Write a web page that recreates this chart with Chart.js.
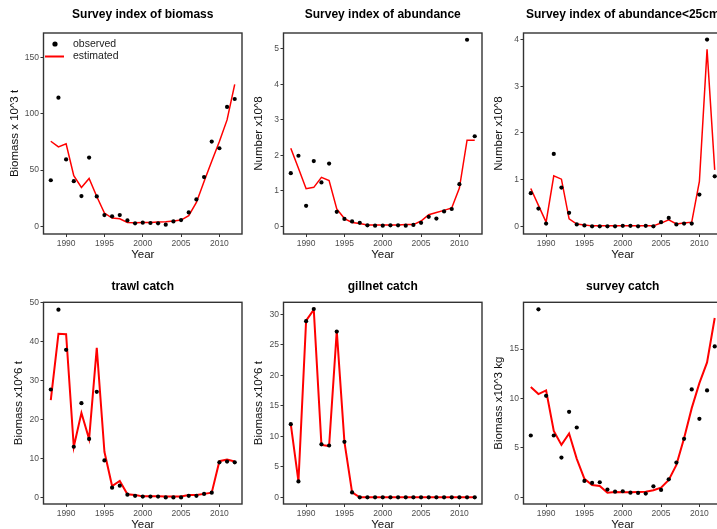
<!DOCTYPE html>
<html>
<head>
<meta charset="utf-8">
<script src="https://cdn.jsdelivr.net/npm/chart.js@4.4.1/dist/chart.umd.min.js"></script>
<style>
  html, body { margin:0; padding:0; background:#fff; }
  body { width:717px; height:529px; overflow:hidden; position:relative; }
  canvas { position:absolute; }
</style>
</head>
<body>
<canvas id="p0"></canvas>
<canvas id="p1"></canvas>
<canvas id="p2"></canvas>
<canvas id="p3"></canvas>
<canvas id="p4"></canvas>
<canvas id="p5"></canvas>
<script>
// ---------------- DATA ----------------
const years = [1988,1989,1990,1991,1992,1993,1994,1995,1996,1997,1998,1999,2000,
               2001,2002,2003,2004,2005,2006,2007,2008,2009,2010,2011,2012];
const xTickValues = [1990,1995,2000,2005,2010];

const biomassObs = [41,114.5,59.5,40.2,26.9,61.2,26.6,10,8.9,10,5.3,2.7,3.3,3,2.7,1.5,4.4,5.6,12.4,24,43.8,75.4,69.5,106.2,113.3];
const biomassEst = [75.7,70.7,73.4,45,34.6,42.6,26.6,11.8,7.4,6.8,3.5,3.3,3.5,3.5,3.8,4.1,4.7,5.6,9.5,21.3,40,58,75.4,94.7,126.3];

const abundObs = [1.50,1.99,0.58,1.84,1.24,1.77,0.41,0.21,0.14,0.10,0.03,0.02,0.02,0.03,0.03,0.02,0.04,0.10,0.27,0.22,0.42,0.49,1.19,5.26,2.54];
const abundEst = [2.20,1.64,1.06,1.10,1.38,1.29,0.49,0.22,0.11,0.08,0.04,0.04,0.04,0.04,0.04,0.05,0.05,0.15,0.33,0.39,0.45,0.52,1.08,2.43,2.43];

const abund25Obs = [0.71,0.38,0.06,1.55,0.83,0.29,0.04,0.02,0.0,0.0,0.0,0.0,0.01,0.01,0.0,0.01,0.0,0.09,0.18,0.04,0.06,0.06,0.68,4.0,1.07];
const abund25Est = [0.81,0.45,0.09,1.08,1.01,0.16,0.05,0.03,0.01,0.01,0.01,0.01,0.01,0.01,0.01,0.01,0.01,0.07,0.14,0.05,0.07,0.09,0.96,3.79,1.21];

const trawlObs = [27.7,48.2,37.9,13.0,24.2,15.0,27.1,9.5,2.5,3.0,0.7,0.4,0.2,0.2,0.2,0.0,0.0,0.0,0.4,0.4,0.9,1.2,9.0,9.2,9.0];
const trawlEst = [25.0,42.0,41.9,13.0,21.7,15.0,38.4,11.7,2.9,4.2,0.8,0.6,0.26,0.26,0.26,0.2,0.2,0.2,0.6,0.6,0.9,1.2,9.3,9.7,9.2];

const gillnetObs = [12.0,2.6,28.9,30.9,8.7,8.5,27.2,9.1,0.8,0,0,0,0,0,0,0,0,0,0,0,0,0,0,0,0];
const gillnetEst = [12.0,2.6,29.0,30.8,8.6,8.4,27.3,9.1,0.8,0,0,0,0,0,0,0,0,0,0,0,0,0,0,0,0];

const surveyObs = [6.25,19.02,10.27,6.25,4.02,8.65,7.06,1.66,1.45,1.52,0.78,0.57,0.61,0.47,0.44,0.37,1.11,0.74,1.82,3.51,5.91,10.91,7.94,10.81,15.27];
const surveyEst = [11.15,10.44,10.81,6.72,5.30,6.45,3.89,1.86,1.25,1.15,0.47,0.54,0.5,0.5,0.54,0.57,0.71,0.98,1.76,3.28,5.98,9.02,11.55,13.65,18.14];

const titles = ["Survey index of biomass","Survey index of abundance","Survey index of abundance<25cm",
                "trawl catch","gillnet catch","survey catch"];
const yLabels = ["Biomass x 10^3 t","Number x10^8","Number x10^8",
                 "Biomass x10^6 t","Biomass x10^6 t","Biomass x10^3 kg"];
const biomassTicks = [0,50,100,150];
const abundTicks = [0,1,2,3,4,5];
const abund25Ticks = [0,1,2,3,4];
const trawlTicks = [0,10,20,30,40,50];
const gillnetTicks = [0,5,10,15,20,25,30];
const surveyTicks = [0,5,10,15];
const legendLabels = ["observed","estimated"];

// ---------------- LAYOUT / STYLE ----------------
const FONT = "'Liberation Sans', Arial, sans-serif";
const panels = [
  {obs:biomassObs, est:biomassEst, ticks:biomassTicks, ymin:-6.8, ymax:172, row:0, col:0, ytp:8, legend:true},
  {obs:abundObs, est:abundEst, ticks:abundTicks, ymin:-0.215, ymax:5.45, row:0, col:1, ytp:11.5},
  {obs:abund25Obs, est:abund25Est, ticks:abund25Ticks, ymin:-0.164, ymax:4.14, row:0, col:2, ytp:11.5},
  {obs:trawlObs, est:trawlEst, ticks:trawlTicks, ymin:-1.7, ymax:50.1, row:1, col:0, ytp:11.5},
  {obs:gillnetObs, est:gillnetEst, ticks:gillnetTicks, ymin:-1.1, ymax:32.0, row:1, col:1, ytp:11.5},
  {obs:surveyObs, est:surveyEst, ticks:surveyTicks, ymin:-0.68, ymax:19.73, row:1, col:2, ytp:11.5},
];
const rows = [
  {top:0,   h:265, chartTop:33,   chartBottom:234, titleY:15,   yearPad:3,  lw:1.5},
  {top:265, h:270, chartTop:37.3, chartBottom:239, titleY:21.7, yearPad:3,  lw:2}
];
const CW = 245, PLOT_LEFT = 43.5, PLOT_RIGHT = 242;

const panelDeco = {
  id:'panelDeco',
  afterDraw(chart, args, opts) {
    const {ctx, chartArea:a} = chart;
    ctx.save();
    // box
    ctx.strokeStyle = '#333';
    ctx.lineWidth = 1.4;
    ctx.strokeRect(a.left, a.top, a.right - a.left, a.bottom - a.top);
    // title
    ctx.fillStyle = '#000';
    ctx.font = 'bold 12px ' + FONT;
    ctx.textAlign = 'center';
    ctx.textBaseline = 'middle';
    ctx.fillText(opts.title, (a.left + a.right) / 2, opts.titleY);
    // legend
    if (opts.legend) {
      ctx.fillStyle = '#000';
      ctx.beginPath();
      ctx.arc(55, 44, 2.6, 0, Math.PI * 2);
      ctx.fill();
      ctx.strokeStyle = '#ff0000';
      ctx.lineWidth = 2;
      ctx.beginPath();
      ctx.moveTo(45, 56.5); ctx.lineTo(64, 56.5);
      ctx.stroke();
      ctx.fillStyle = '#222';
      ctx.font = '10.5px ' + FONT;
      ctx.textAlign = 'left';
      ctx.fillText(opts.legendLabels[0], 73, 44.5);
      ctx.fillText(opts.legendLabels[1], 73, 56.5);
    }
    ctx.restore();
  }
};

panels.forEach((p, i) => {
  const r = rows[p.row];
  const cv = document.getElementById('p' + i);
  cv.width = CW; cv.height = r.h;
  cv.style.left = (p.col * 240) + 'px';
  cv.style.top = r.top + 'px';
  cv.style.width = CW + 'px'; cv.style.height = r.h + 'px';
  const xH = r.h - r.chartBottom;
  new Chart(cv, {
    type: 'scatter',
    data: {
      datasets: [
        {label: legendLabels[0], data: years.map((y, k) => ({x:y, y:p.obs[k]})),
         showLine:false, pointRadius:2.1, pointHoverRadius:2.1, pointBackgroundColor:'#000',
         pointBorderWidth:0, borderColor:'#000', order:0},
        {label: legendLabels[1], data: years.map((y, k) => ({x:y, y:p.est[k]})),
         showLine:true, pointRadius:0, borderColor:'#ff0000', borderWidth:r.lw,
         tension:0, order:1}
      ]
    },
    options: {
      responsive:false, animation:false, devicePixelRatio:1,
      layout:{padding:{top:r.chartTop, right:CW - PLOT_RIGHT, left:0, bottom:0}},
      plugins:{legend:{display:false}, tooltip:{enabled:false}, title:{display:false},
               panelDeco:{title:titles[i], titleY:r.titleY, legend:!!p.legend, legendLabels}},
      scales:{
        x:{type:'linear', min:1987.05, max:2012.95,
           afterBuildTicks(s){ s.ticks = xTickValues.map(v => ({value:v})); },
           afterFit(s){ s.height = xH; },
           ticks:{font:{family:FONT, size:8.5}, color:'#4d4d4d', padding:2, maxRotation:0, autoSkip:false,
                  callback:(v) => String(v)},
           grid:{drawOnChartArea:false, drawTicks:true, tickLength:3, tickColor:'#333', lineWidth:1},
           border:{display:false},
           title:{display:true, text:'Year', font:{family:FONT, size:11.5}, color:'#111',
                  padding:{top:0, bottom:r.yearPad}}},
        y:{type:'linear', min:p.ymin, max:p.ymax,
           afterBuildTicks(s){ s.ticks = p.ticks.map(v => ({value:v})); },
           afterFit(s){ s.width = PLOT_LEFT; },
           ticks:{font:{family:FONT, size:8.5}, color:'#4d4d4d', padding:1.5, autoSkip:false,
                  callback:(v) => String(v)},
           grid:{drawOnChartArea:false, drawTicks:true, tickLength:3, tickColor:'#333', lineWidth:1},
           border:{display:false},
           title:{display:true, text:yLabels[i], font:{family:FONT, size:11.5}, color:'#111',
                  padding:{top:p.ytp, bottom:0}}}
      }
    },
    plugins:[panelDeco]
  });
});
</script>
</body>
</html>
